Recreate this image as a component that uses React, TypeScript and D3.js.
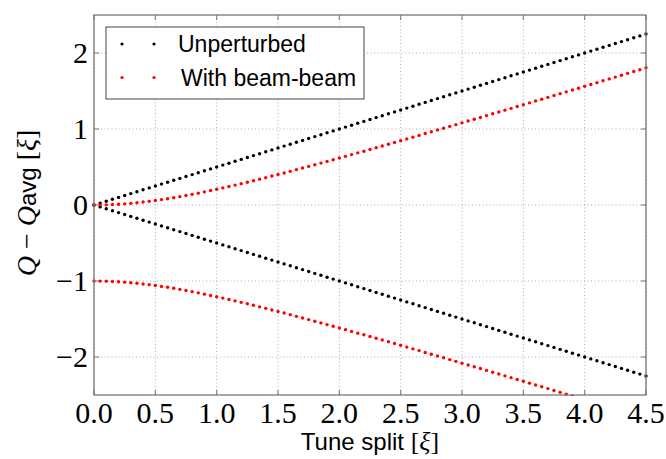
import React from "react";
import * as d3 from "d3";

const tuneSplit = [
  0.0, 0.05, 0.1, 0.15, 0.2, 0.25, 0.3, 0.35, 0.4, 0.45, 0.5, 0.55, 0.6, 0.65, 0.7, 0.75, 0.8, 0.85, 0.9, 0.95,
  1.0, 1.05, 1.1, 1.15, 1.2, 1.25, 1.3, 1.35, 1.4, 1.45, 1.5, 1.55, 1.6, 1.65, 1.7, 1.75, 1.8, 1.85, 1.9, 1.95,
  2.0, 2.05, 2.1, 2.15, 2.2, 2.25, 2.3, 2.35, 2.4, 2.45, 2.5, 2.55, 2.6, 2.65, 2.7, 2.75, 2.8, 2.85, 2.9, 2.95,
  3.0, 3.05, 3.1, 3.15, 3.2, 3.25, 3.3, 3.35, 3.4, 3.45, 3.5, 3.55, 3.6, 3.65, 3.7, 3.75, 3.8, 3.85, 3.9, 3.95,
  4.0, 4.05, 4.1, 4.15, 4.2, 4.25, 4.3, 4.35, 4.4, 4.45, 4.5,
];

const unperturbedUpper = [
  0.0, 0.025, 0.05, 0.075, 0.1, 0.125, 0.15, 0.175, 0.2, 0.225, 0.25, 0.275, 0.3, 0.325, 0.35, 0.375, 0.4, 0.425, 0.45, 0.475,
  0.5, 0.525, 0.55, 0.575, 0.6, 0.625, 0.65, 0.675, 0.7, 0.725, 0.75, 0.775, 0.8, 0.825, 0.85, 0.875, 0.9, 0.925, 0.95, 0.975,
  1.0, 1.025, 1.05, 1.075, 1.1, 1.125, 1.15, 1.175, 1.2, 1.225, 1.25, 1.275, 1.3, 1.325, 1.35, 1.375, 1.4, 1.425, 1.45, 1.475,
  1.5, 1.525, 1.55, 1.575, 1.6, 1.625, 1.65, 1.675, 1.7, 1.725, 1.75, 1.775, 1.8, 1.825, 1.85, 1.875, 1.9, 1.925, 1.95, 1.975,
  2.0, 2.025, 2.05, 2.075, 2.1, 2.125, 2.15, 2.175, 2.2, 2.225, 2.25,
];

const unperturbedLower = [
  0.0, -0.025, -0.05, -0.075, -0.1, -0.125, -0.15, -0.175, -0.2, -0.225, -0.25, -0.275, -0.3, -0.325, -0.35, -0.375, -0.4, -0.425, -0.45, -0.475,
  -0.5, -0.525, -0.55, -0.575, -0.6, -0.625, -0.65, -0.675, -0.7, -0.725, -0.75, -0.775, -0.8, -0.825, -0.85, -0.875, -0.9, -0.925, -0.95, -0.975,
  -1.0, -1.025, -1.05, -1.075, -1.1, -1.125, -1.15, -1.175, -1.2, -1.225, -1.25, -1.275, -1.3, -1.325, -1.35, -1.375, -1.4, -1.425, -1.45, -1.475,
  -1.5, -1.525, -1.55, -1.575, -1.6, -1.625, -1.65, -1.675, -1.7, -1.725, -1.75, -1.775, -1.8, -1.825, -1.85, -1.875, -1.9, -1.925, -1.95, -1.975,
  -2.0, -2.025, -2.05, -2.075, -2.1, -2.125, -2.15, -2.175, -2.2, -2.225, -2.25,
];

const beamBeamUpper = [
  0.0, 0.001, 0.002, 0.006, 0.01, 0.015, 0.022, 0.03, 0.039, 0.048, 0.059, 0.071, 0.083, 0.096, 0.11, 0.125, 0.14, 0.156, 0.173, 0.19,
  0.207, 0.225, 0.243, 0.262, 0.281, 0.3, 0.32, 0.34, 0.36, 0.381, 0.401, 0.422, 0.443, 0.465, 0.486, 0.508, 0.53, 0.551, 0.574, 0.596,
  0.618, 0.64, 0.663, 0.686, 0.708, 0.731, 0.754, 0.777, 0.8, 0.823, 0.846, 0.87, 0.893, 0.916, 0.94, 0.963, 0.987, 1.01, 1.034, 1.057,
  1.081, 1.105, 1.129, 1.152, 1.176, 1.2, 1.224, 1.248, 1.272, 1.296, 1.32, 1.344, 1.368, 1.392, 1.416, 1.441, 1.465, 1.489, 1.513, 1.537,
  1.562, 1.586, 1.61, 1.634, 1.659, 1.683, 1.707, 1.732, 1.756, 1.78, 1.805,
];

const beamBeamLower = [
  -1.0, -1.001, -1.002, -1.006, -1.01, -1.015, -1.022, -1.03, -1.039, -1.048, -1.059, -1.071, -1.083, -1.096, -1.11, -1.125, -1.14, -1.156, -1.173, -1.19,
  -1.207, -1.225, -1.243, -1.262, -1.281, -1.3, -1.32, -1.34, -1.36, -1.381, -1.401, -1.422, -1.443, -1.465, -1.486, -1.508, -1.53, -1.551, -1.574, -1.596,
  -1.618, -1.64, -1.663, -1.686, -1.708, -1.731, -1.754, -1.777, -1.8, -1.823, -1.846, -1.87, -1.893, -1.916, -1.94, -1.963, -1.987, -2.01, -2.034, -2.057,
  -2.081, -2.105, -2.129, -2.152, -2.176, -2.2, -2.224, -2.248, -2.272, -2.296, -2.32, -2.344, -2.368, -2.392, -2.416, -2.441, -2.465, -2.489, -2.513, -2.537,
  -2.562, -2.586, -2.61, -2.634, -2.659, -2.683, -2.707, -2.732, -2.756, -2.78, -2.805,
];

const xTicks = [0, 0.5, 1, 1.5, 2, 2.5, 3, 3.5, 4, 4.5];
const xTickLabels = ["0.0", "0.5", "1.0", "1.5", "2.0", "2.5", "3.0", "3.5", "4.0", "4.5"];
const yTicks = [-2, -1, 0, 1, 2];
const yTickLabels = ["\u22122", "\u22121", "0", "1", "2"];

const legendLabels = ["Unperturbed", "With beam-beam"];
const seriesColors = ["#000000", "#ff0000"];

const W = 666;
const H = 459;
const L = 94, R = 646, T = 15, B = 395;

export default function App() {
  const x = d3.scaleLinear().domain([0, 4.5]).range([L, R]);
  const y = d3.scaleLinear().domain([-2.5, 2.5]).range([B, T]);
  const serif = "'Liberation Serif', 'DejaVu Serif', serif";
  const sans = "'Liberation Sans', Arial, sans-serif";
  const frame = "#777";
  const tickLen = 5;

  const series = [
    { vals: unperturbedUpper, color: seriesColors[0] },
    { vals: unperturbedLower, color: seriesColors[0] },
    { vals: beamBeamUpper, color: seriesColors[1] },
    { vals: beamBeamLower, color: seriesColors[1] },
  ];

  return (
    <svg width={W} height={H} style={{ position: "absolute", left: 0, top: 0, background: "#fff" }}>
      <defs>
        <clipPath id="plotclip">
          <rect x={L - 3} y={T - 1} width={R - L + 6} height={B - T + 2} />
        </clipPath>
      </defs>
      <rect x={0} y={0} width={W} height={H} fill="#fff" />
      {/* grid */}
      {xTicks.map((t, i) => (
        <line key={"gx" + i} x1={x(t)} x2={x(t)} y1={T} y2={B} stroke="#9a9a9a" strokeWidth={0.8} strokeDasharray="1,2.5" />
      ))}
      {yTicks.map((t, i) => (
        <line key={"gy" + i} x1={L} x2={R} y1={y(t)} y2={y(t)} stroke="#9a9a9a" strokeWidth={0.8} strokeDasharray="1,2.5" />
      ))}
      {/* data */}
      <g clipPath="url(#plotclip)">
        {series.map((s, si) =>
          s.vals.map((v, i) => (
            <circle key={si + "-" + i} cx={x(tuneSplit[i])} cy={y(v)} r={1.7} fill={s.color} />
          ))
        )}
      </g>
      {/* ticks */}
      {xTicks.map((t, i) => (
        <g key={"tx" + i}>
          <line x1={x(t)} x2={x(t)} y1={B} y2={B - tickLen} stroke={frame} strokeWidth={1} />
          <line x1={x(t)} x2={x(t)} y1={T} y2={T + tickLen} stroke={frame} strokeWidth={1} />
          <text x={x(t)} y={422.5} textAnchor="middle" fontFamily={serif} fontSize={30} fill="#000">
            {xTickLabels[i]}
          </text>
        </g>
      ))}
      {yTicks.map((t, i) => (
        <g key={"ty" + i}>
          <line x1={L} x2={L + tickLen} y1={y(t)} y2={y(t)} stroke={frame} strokeWidth={1} />
          <line x1={R} x2={R - tickLen} y1={y(t)} y2={y(t)} stroke={frame} strokeWidth={1} />
          <text x={88} y={y(t)} dy="0.34em" textAnchor="end" fontFamily={serif} fontSize={30} fill="#000">
            {yTickLabels[i]}
          </text>
        </g>
      ))}
      {/* frame */}
      <rect x={L} y={T} width={R - L} height={B - T} fill="none" stroke={frame} strokeWidth={1.3} />
      {/* legend */}
      <rect x={106} y={27} width={258} height={72} fill="#fff" stroke="#444" strokeWidth={1} />
      {legendLabels.map((lab, i) => {
        const ly = i === 0 ? 44 : 77.5;
        return (
          <g key={"lg" + i}>
            <circle cx={122} cy={ly} r={1.6} fill={seriesColors[i]} />
            <circle cx={154} cy={ly} r={1.6} fill={seriesColors[i]} />
            <text x={i === 0 ? 178 : 181} y={ly + 8.3} fontFamily={sans} fontSize={23} fill="#000">
              {lab}
            </text>
          </g>
        );
      })}
      {/* x label */}
      <text x={(L + R) / 2} y={449.5} textAnchor="middle" fill="#000">
        <tspan fontFamily={sans} fontSize={24}>Tune split </tspan>
        <tspan fontFamily={serif} fontSize={26}>[</tspan>
        <tspan fontFamily={serif} fontSize={26} fontStyle="italic">ξ</tspan>
        <tspan fontFamily={serif} fontSize={26}>]</tspan>
      </text>
      {/* y label */}
      <text transform={`translate(36,203) rotate(-90)`} textAnchor="middle" fill="#000">
        <tspan fontFamily={serif} fontSize={28} fontStyle="italic">Q</tspan>
        <tspan fontFamily={serif} fontSize={28}> − </tspan>
        <tspan fontFamily={serif} fontSize={28} fontStyle="italic">Q</tspan>
        <tspan fontFamily={sans} fontSize={24}>avg</tspan>
        <tspan fontFamily={serif} fontSize={28}> [</tspan>
        <tspan fontFamily={serif} fontSize={28} fontStyle="italic">ξ</tspan>
        <tspan fontFamily={serif} fontSize={28}>]</tspan>
      </text>
    </svg>
  );
}
